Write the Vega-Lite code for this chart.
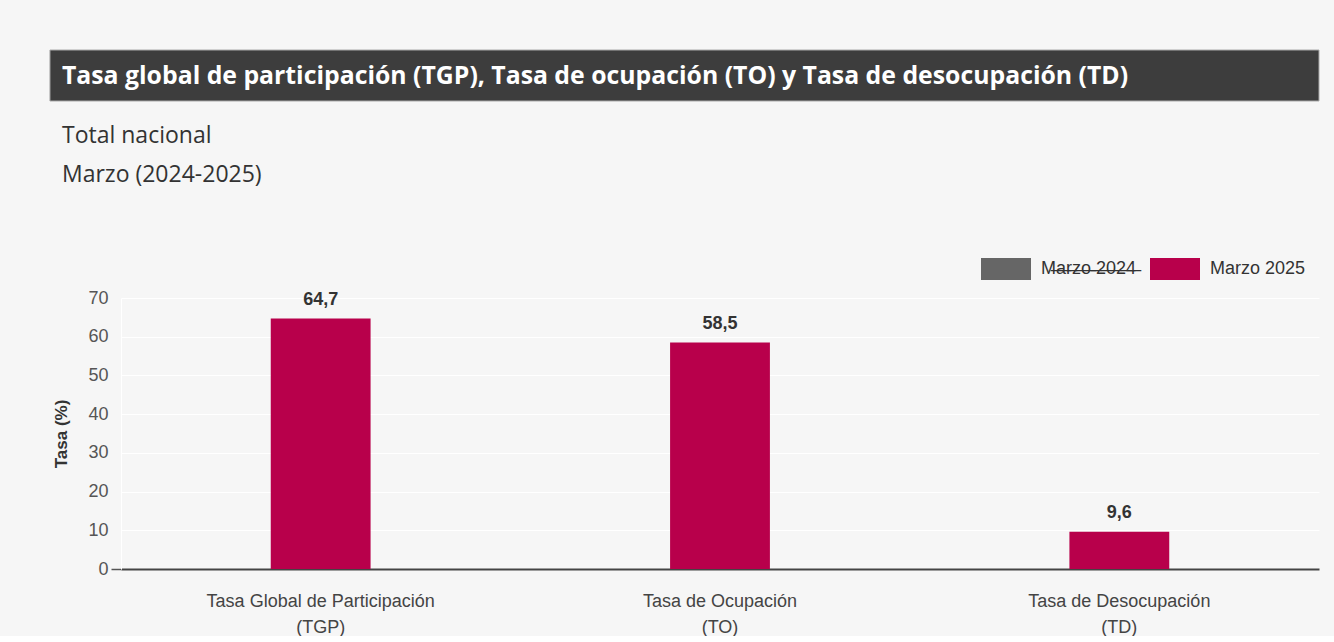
{
  "$schema": "https://vega.github.io/schema/vega-lite/v6.json",
  "background": "#f6f6f6",
  "padding": {"left": 49, "top": 49, "right": 16, "bottom": 0},
  "config": {
    "locale": {"number": {"decimal": ",", "thousands": ".", "grouping": [3], "currency": ["$", ""]}},
    "view": {"stroke": null},
    "font": "Liberation Sans"
  },
  "spacing": 23,
  "resolve": {"legend": {"color": "independent"}},
  "vconcat": [
    {
      "width": 1198,
      "height": 51,
      "data": {"values": [{"t": "Tasa global de participación (TGP), Tasa de ocupación (TO) y Tasa de desocupación (TD)", "desde": -0.0593, "hasta": 1}]},
      "encoding": {
        "x": {"field": "desde", "type": "quantitative", "scale": {"domain": [0, 1], "nice": false, "zero": false}, "axis": null}
      },
      "layer": [
        {
          "mark": {"type": "rect", "color": "#3d3d3d", "stroke": "#aaaaaa", "strokeWidth": 1, "clip": false},
          "encoding": {"x2": {"field": "hasta"}}
        },
        {
          "mark": {"type": "text", "align": "left", "baseline": "middle", "dx": 12, "dy": 1, "color": "#ffffff", "font": "Open Sans", "fontSize": 24.8, "fontWeight": "bold", "clip": false},
          "encoding": {"text": {"field": "t", "type": "nominal"}}
        }
      ]
    },
    {
      "width": 1198,
      "height": 271,
      "title": {
        "text": ["Total nacional", "Marzo (2024-2025)"],
        "anchor": "start",
        "frame": "bounds",
        "font": "Open Sans",
        "fontSize": 23,
        "fontWeight": "normal",
        "color": "#333333",
        "lineHeight": 39,
        "dx": 9,
        "offset": 57
      },
      "data": {"values": [
        {"indicador": "Tasa Global de Participación|(TGP)", "serie": "Marzo 2025", "tasa": 64.7},
        {"indicador": "Tasa de Ocupación|(TO)", "serie": "Marzo 2025", "tasa": 58.5},
        {"indicador": "Tasa de Desocupación|(TD)", "serie": "Marzo 2025", "tasa": 9.6}
      ]},
      "encoding": {
        "x": {
          "field": "indicador", "type": "nominal", "sort": null,
          "scale": {"paddingInner": 0.75, "paddingOuter": 0.375},
          "axis": {
            "title": null, "labelAngle": 0, "ticks": false,
            "labelExpr": "split(datum.label, '|')",
            "labelFontSize": 18, "labelColor": "#444444", "labelPadding": 23, "labelLineHeight": 26, "labelLimit": 500,
            "domainColor": "#444444", "domainWidth": 2, "grid": false
          }
        },
        "y": {
          "field": "tasa", "type": "quantitative",
          "scale": {"domain": [0, 70], "nice": false},
          "axis": {
            "title": "Tasa (%)", "titleFontSize": 17, "titleFontWeight": "bold", "titleColor": "#333333", "titlePadding": 17,
            "values": [0, 10, 20, 30, 40, 50, 60, 70],
            "labelFontSize": 18, "labelColor": "#555555", "labelPadding": 3,
            "ticks": true, "tickSize": 10, "tickWidth": 1.5,
            "tickColor": {"condition": {"test": "datum.value === 0", "value": "#555555"}, "value": "transparent"},
            "domain": true, "domainColor": "#ffffff", "domainWidth": 1,
            "grid": true, "gridColor": "#ffffff", "gridWidth": 1
          }
        }
      },
      "layer": [
        {
          "mark": {"type": "bar"},
          "encoding": {
            "color": {
              "field": "serie", "type": "nominal",
              "scale": {"domain": ["Marzo 2024", "Marzo 2025"], "range": ["#666666", "#b8004b"]},
              "legend": {
                "title": null, "orient": "none", "direction": "horizontal",
                "legendX": 860, "legendY": -54,
                "symbolType": "M-1,-0.44H1V0.44H-1Z", "symbolSize": 2500,
                "symbolStrokeWidth": 0, "symbolOpacity": 1,
                "labelFontSize": 18, "labelColor": "#333333", "labelOffset": 10, "columnPadding": 13,
                "padding": 0,
                "labelExpr": "datum.label === 'Marzo 2024' ? 'M̶a̶r̶z̶o̶ ̶2̶0̶2̶4̶' : datum.label"
              }
            }
          }
        },
        {
          "mark": {"type": "text", "baseline": "alphabetic", "dy": -14, "fontSize": 18, "fontWeight": "bold", "color": "#333333"},
          "encoding": {
            "text": {"field": "tasa", "type": "quantitative", "format": ".1f"}
          }
        }
      ]
    }
  ]
}
